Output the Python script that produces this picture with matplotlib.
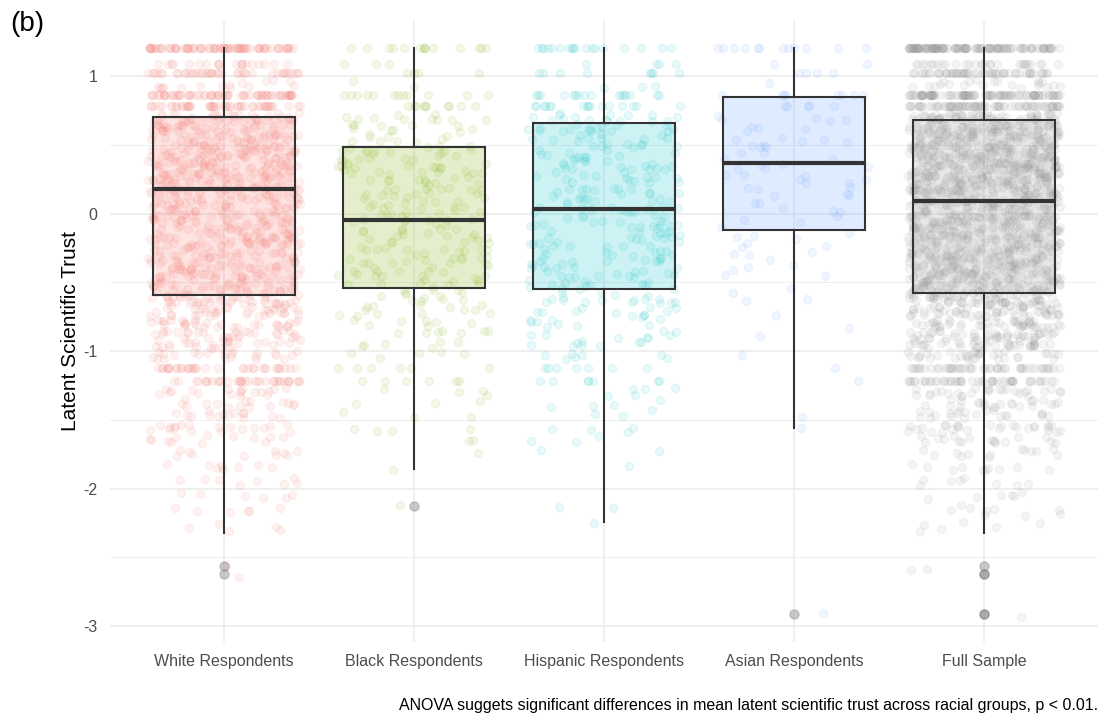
import matplotlib.pyplot as plt
import numpy as np
from matplotlib.colors import to_rgba

plt.rcParams["font.family"] = ["Liberation Sans", "DejaVu Sans"]
plt.rcParams["axes.unicode_minus"] = False

groups = ["White Respondents", "Black Respondents", "Hispanic Respondents",
          "Asian Respondents", "Full Sample"]
colors = ["#F8766D", "#7CAE00", "#00BFC4", "#619CFF", "#909090"]

# trust score levels (rows of respondents) and how many respondents sit on each
levels = [1.20, 1.09, 1.02, 0.94, 0.86, 0.78, 0.70, 0.62, 0.55, 0.48, 0.42,
          0.36, 0.30, 0.24, 0.18, 0.12, 0.06, 0.00, -0.06, -0.12, -0.18,
          -0.24, -0.30, -0.36, -0.42, -0.48, -0.54, -0.60, -0.66, -0.72,
          -0.80, -0.88, -0.95, -1.03, -1.12, -1.22, -1.30, -1.38, -1.46,
          -1.56, -1.64, -1.74, -1.84, -1.95, -2.05, -2.17, -2.28]
white_counts = [80, 20, 40, 15, 65, 50, 40, 35, 35, 35, 35,
                35, 35, 35, 35, 28, 28, 28, 28, 28, 28,
                28, 28, 28, 28, 28, 28, 30, 30, 28,
                30, 28, 25, 22, 35, 35, 18, 15, 14,
                18, 12, 10, 8, 8, 6, 6, 5]
black_counts = [14, 3, 4, 2, 12, 10, 10, 10, 9, 10, 11,
                10, 10, 10, 10, 9, 9, 8, 9, 9, 9,
                9, 9, 9, 9, 9, 8, 8, 7, 8,
                7, 7, 6, 5, 6, 6, 4, 3, 3,
                4, 2, 1, 1, 0, 0, 0, 0]
hispanic_counts = [18, 4, 8, 3, 16, 16, 16, 16, 10, 10, 10,
                   10, 10, 10, 10, 10, 10, 10, 10, 10, 10,
                   10, 10, 10, 10, 10, 10, 10, 9, 9,
                   9, 8, 8, 7, 7, 7, 5, 4, 3,
                   4, 3, 2, 1, 0, 0, 0, 0]
asian_counts = [12, 2, 4, 1, 8, 5, 5, 4, 5, 4, 4,
                4, 4, 4, 3, 3, 3, 3, 2, 2, 3,
                3, 3, 2, 2, 2, 1, 2, 1, 1,
                1, 1, 0, 1, 1, 1, 0, 0, 1,
                1, 0, 0, 0, 0, 0, 0, 0]
# lowest scores that fall off the regular rows
white_tail = [-2.56, -2.62]
black_tail = [-2.13]
hispanic_tail = [-2.15, -2.15, -2.24]
asian_tail = [-2.91]

# rows that stay perfectly aligned (no vertical jitter)
crisp_rows = [1.20, 1.09, 1.02, 0.86, 0.78, -1.12, -1.22]

# boxplot summaries
q1 = [-0.59, -0.54, -0.55, -0.12, -0.58]
medians = [0.175, -0.05, 0.03, 0.367, 0.09]
q3 = [0.70, 0.484, 0.66, 0.847, 0.68]
whisker_lo = [-2.32, -1.855, -2.24, -1.56, -2.32]
whisker_hi = [1.20, 1.20, 1.20, 1.20, 1.20]
outliers = [[-2.56, -2.62], [-2.13], [], [-2.91], [-2.56, -2.62, -2.62, -2.91, -2.91]]

caption = ("ANOVA suggets significant differences in mean latent scientific "
           "trust across racial groups, p < 0.01.")


def expand(counts, tail):
    return np.concatenate([np.repeat(levels, counts), tail])


def scramble(n, seed):
    # cheap deterministic hash in [0, 1)
    idx = np.arange(n, dtype=float)
    return np.abs(np.sin(idx * 12.9898 + seed * 78.233) * 43758.5453) % 1.0


scores = [expand(white_counts, white_tail),
          expand(black_counts, black_tail),
          expand(hispanic_counts, hispanic_tail),
          expand(asian_counts, asian_tail)]
scores.append(np.concatenate(scores))

fig = plt.figure(figsize=(11.04, 7.19), dpi=100)
ax = fig.add_axes([0.0996, 0.1071, 0.8950, 0.8637])

positions = np.arange(1, len(groups) + 1)

# jittered respondents
for i, (vals, col) in enumerate(zip(scores, colors)):
    n = len(vals)
    xs = positions[i] + (scramble(n, i + 1) - 0.5) * 0.8
    dy = (scramble(n, i + 11) - 0.5) * 0.06
    dy[np.isin(vals, crisp_rows)] = 0.0
    ax.scatter(xs, vals + dy, s=34, color=col, alpha=0.09, linewidths=0.9,
               edgecolors=col, zorder=2)

stats = [dict(med=medians[i], q1=q1[i], q3=q3[i], whislo=whisker_lo[i],
              whishi=whisker_hi[i], fliers=outliers[i]) for i in range(len(groups))]
bp = ax.bxp(stats, positions=positions, widths=0.75, patch_artist=True,
            showcaps=False, zorder=3,
            boxprops=dict(edgecolor="#333333", linewidth=1.5),
            whiskerprops=dict(color="#333333", linewidth=1.5),
            medianprops=dict(color="#333333", linewidth=3.0),
            flierprops=dict(marker="o", markersize=6.5, markerfacecolor="#7F7F7F",
                            markeredgecolor="#7F7F7F", alpha=0.4))
for patch, col in zip(bp["boxes"], colors):
    patch.set_facecolor(to_rgba(col, 0.2))

ax.set_xlim(0.4, 5.6)
ax.set_ylim(-3.116, 1.40)
ax.set_xticks(positions)
ax.set_xticklabels(groups)
ax.set_yticks([-3, -2, -1, 0, 1])
ax.set_yticks([-2.5, -1.5, -0.5, 0.5], minor=True)
ax.tick_params(axis="both", which="both", length=0, labelsize=11.5,
               labelcolor="#4D4D4D")
ax.tick_params(axis="x", pad=9)
ax.tick_params(axis="y", pad=9)
ax.grid(True, which="major", color="#EBEBEB", linewidth=1.1, zorder=0)
ax.grid(True, which="minor", axis="y", color="#EBEBEB", linewidth=0.6, zorder=0)
ax.set_axisbelow(True)
for side in ax.spines.values():
    side.set_visible(False)

ax.set_ylabel("Latent Scientific Trust", fontsize=15, labelpad=2)
fig.text(0.009, 0.966, "(b)", fontsize=20, va="center", ha="left")
fig.text(0.995, 0.019, caption, fontsize=11.5, ha="right", va="center")

fig.savefig("out.png", dpi=100)
plt.close(fig)
